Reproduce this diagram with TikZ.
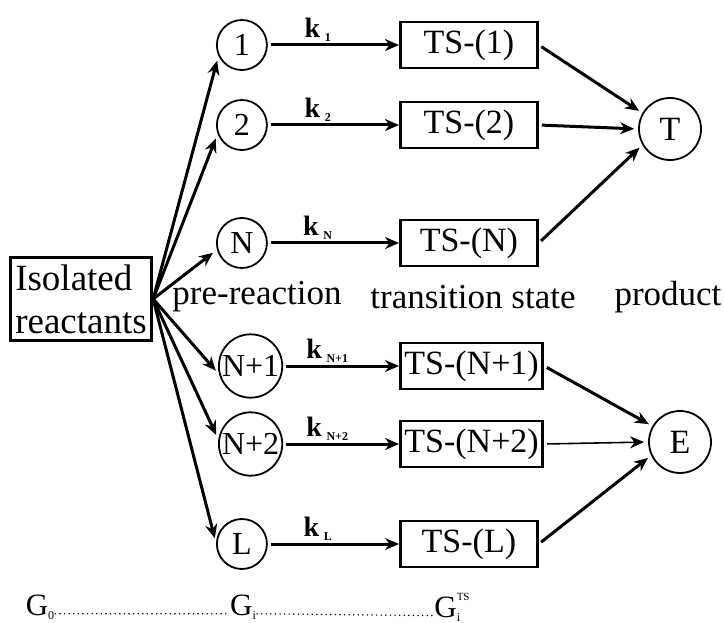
\documentclass[tikz,border=0pt]{standalone}
\usepackage{fontspec}
\setmainfont{Liberation Serif}
\usetikzlibrary{arrows.meta, positioning, calc}

\newcommand{\lowidx}[1]{\raisebox{-4pt}{\fontsize{12}{12}\selectfont #1}}
\newcommand{\highidx}[1]{\raisebox{17pt}{\fontsize{11}{11}\selectfont #1}}
\newcommand{\rate}[1]{\textbf{k}\,\lowidx{\bfseries #1}}

\begin{document}
\begin{tikzpicture}[
    x=1pt, y=-1pt,
    >={Stealth[length=14pt, width=12pt]},
    every node/.style={font=\fontsize{34}{38}\selectfont},
    state/.style={circle, draw, line width=1.8pt, minimum size=50pt, inner sep=1pt, anchor=west, font=\fontsize{32}{36}\selectfont},
    prod/.style={circle, draw, line width=1.8pt, minimum size=62pt, inner sep=2pt},
    tsbox/.style={rectangle, draw, line width=2.8pt, minimum width=137pt, minimum height=46pt, inner xsep=4pt, anchor=west},
    srcbox/.style={rectangle, draw, line width=2.8pt, align=left, inner xsep=5pt, inner ysep=7pt, font=\fontsize{37}{43}\selectfont},
    flow/.style={->, line width=3pt},
    klbl/.style={font=\fontsize{28}{28}\selectfont, above, pos=0.38, inner sep=2pt},
    colhead/.style={font=\fontsize{35}{38}\selectfont},
    glbl/.style={font=\fontsize{31}{34}\selectfont, inner sep=1pt},
    dots/.style={line width=1.6pt, dash pattern=on 0pt off 4.6pt, line cap=round}
]
\useasboundingbox (0,0) rectangle (724,623);

% ============================================================
% 1. ISOLATED REACTANTS
% ============================================================
\node[srcbox] (iso) at (81,299) {Isolated\\reactants};

% ============================================================
% 2. PRE-REACTION COMPLEXES
% ============================================================
\node[state] (c1)  at (216,45)  {1};
\node[state] (c2)  at (216,125) {2};
\node[state] (cN)  at (216,243) {N};
\node[state] (cN1) at (218,366) {N+1};
\node[state] (cN2) at (218,444) {N+2};
\node[state] (cL)  at (216,544) {L};

\draw[flow, shorten >=5pt] (iso.east) -- (c1.205);
\draw[flow, shorten >=5pt] (iso.east) -- (c2.200);
\draw[flow, shorten >=5pt] (iso.east) -- (cN.195);
\draw[flow, shorten >=5pt] (iso.east) -- (cN1.195);
\draw[flow, shorten >=5pt] (iso.east) -- (cN2.172);
\draw[flow, shorten >=5pt] (iso.east) -- (cL.178);

% ============================================================
% 3. TRANSITION STATES
% ============================================================
\node[tsbox] (ts1)  at (399,45)  {TS-(1)};
\node[tsbox] (ts2)  at (399,125) {TS-(2)};
\node[tsbox] (tsN)  at (399,243) {TS-(N)};
\node[tsbox] (tsN1) at (399,366) {TS-(N+1)};
\node[tsbox] (tsN2) at (399,444) {TS-(N+2)};
\node[tsbox] (tsL)  at (399,544) {TS-(L)};

\draw[flow, shorten <=3pt] (c1)  -- node[klbl] {\rate{1}}   (ts1);
\draw[flow, shorten <=3pt] (c2)  -- node[klbl] {\rate{2}}   (ts2);
\draw[flow, shorten <=3pt] (cN)  -- node[klbl] {\rate{N}}   (tsN);
\draw[flow, shorten <=3pt] (cN1) -- node[klbl] {\rate{N+1}} (tsN1);
\draw[flow, shorten <=3pt] (cN2) -- node[klbl] {\rate{N+2}} (tsN2);
\draw[flow, shorten <=3pt] (cL)  -- node[klbl] {\rate{L}}   (tsL);

% ============================================================
% 4. PRODUCTS
% ============================================================
\node[prod] (T) at (670,129) {T};
\node[prod] (E) at (680,442) {E};

\draw[flow, shorten <=3pt, shorten >=4pt] (ts1.east) -- (T.150);
\draw[flow, shorten <=3pt, shorten >=4pt] (ts2.east) -- (T.west);
\draw[flow, shorten <=3pt, shorten >=4pt] (tsN.east) -- (T.210);
\draw[flow, shorten <=3pt, shorten >=4pt] (tsN1.east) -- (E.150);
\draw[flow, line width=1.6pt, shorten <=3pt, shorten >=4pt] (tsN2.east) -- (E.west);
\draw[flow, shorten <=3pt, shorten >=4pt] (tsL.east) -- (E.205);

% column titles
\node[colhead] (hpre)  at (257,297) {pre-reaction};
\node[colhead] (hts)   at (473,297) {transition state};
\node[colhead] (hprod) at (668,297) {product};

% ============================================================
% 5. FREE ENERGY LEVELS
% ============================================================
\node[glbl] (g0)  at (40,607)  {G\lowidx{0}};
\node[glbl] (gi)  at (243,607) {G\lowidx{i}};
\node[glbl] (gts) at (452,607) {G\rlap{\lowidx{i}}\highidx{TS}};

\draw[dots] ([yshift=1.5pt]g0.base east) -- ([yshift=1.5pt]gi.base west);
\draw[dots] ([yshift=1.5pt]gi.base east) -- ([yshift=1.5pt]gts.base west);

\end{tikzpicture}
\end{document}
